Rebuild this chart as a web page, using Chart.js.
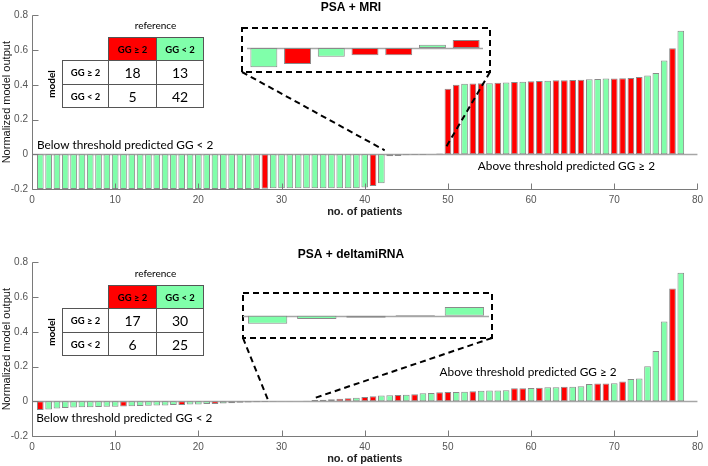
<!DOCTYPE html>
<html>
<head>
<meta charset="utf-8">
<script src="https://cdn.jsdelivr.net/npm/chart.js@4.4.1/dist/chart.umd.min.js"></script>
<style>
  html, body { margin: 0; padding: 0; background: #fff; width: 708px; height: 466px; overflow: hidden; }
  .painel { position: absolute; left: 0; width: 708px; height: 233px; }
  .zoom { position: absolute; }
  .tab { position: absolute; left: 62px; font-family: Lato, 'Open Sans', sans-serif; color: #000; }
  .tab table { border-collapse: collapse; table-layout: fixed; width: 141px; }
  .tab td { border: 1.5px solid #555; padding: 0; text-align: center; vertical-align: middle; }
  .tab td.vazio { border: none; }
  .tab td.hr { background: #ff0000; font-weight: bold; font-size: 9.5px; }
  .tab td.hg { background: #80ffaa; font-weight: bold; font-size: 9.5px; }
  .tab td.rl { font-weight: bold; font-size: 9.5px; }
  .tab td.n { font-size: 14px; }
  .tab .ref { position: absolute; left: 46px; width: 95px; top: -19px; height: 14px; line-height: 14px; text-align: center; font-size: 10px; }
  .tab .mdl { position: absolute; left: -31px; top: 40px; width: 40px; height: 14px; line-height: 14px; text-align: center; font-size: 10px; font-weight: bold; transform: rotate(-90deg); }
</style>
</head>
<body>
<div class="painel" style="top:0"><canvas id="graficoMRI"></canvas></div>
<div class="painel" style="top:247px"><canvas id="graficoMiRNA"></canvas></div>
<div class="zoom" style="left:247px;top:30px;width:236px;height:40px"><canvas id="zoomMRI"></canvas></div>
<div class="zoom" style="left:243px;top:295px;width:246px;height:41px"><canvas id="zoomMiRNA"></canvas></div>
<div class="tab" id="tabMRI" style="top:37px"></div>
<div class="tab" id="tabMiRNA" style="top:285px"></div>

<script>
// Dados
const pacientes = [
  1, 2, 3, 4, 5, 6, 7, 8, 9, 10, 11, 12, 13, 14, 15, 16, 17, 18, 19, 20,
  21, 22, 23, 24, 25, 26, 27, 28, 29, 30, 31, 32, 33, 34, 35, 36, 37, 38, 39, 40,
  41, 42, 43, 44, 45, 46, 47, 48, 49, 50, 51, 52, 53, 54, 55, 56, 57, 58, 59, 60,
  61, 62, 63, 64, 65, 66, 67, 68, 69, 70, 71, 72, 73, 74, 75, 76, 77, 78
];
const ticksX = [0, 10, 20, 30, 40, 50, 60, 70, 80];
const ticksY = [-0.2, 0, 0.2, 0.4, 0.6, 0.8];
const classes = ['GG ≥ 2', 'GG < 2'];

// PSA + MRI
const saidaMRI = [
  -0.2, -0.2, -0.2, -0.2, -0.2, -0.2, -0.2, -0.2, -0.2, -0.2,
  -0.2, -0.2, -0.2, -0.2, -0.2, -0.2, -0.2, -0.2, -0.2, -0.2,
  -0.2, -0.2, -0.2, -0.2, -0.2, -0.2, -0.2, -0.198, -0.196, -0.196,
  -0.196, -0.196, -0.196, -0.196, -0.196, -0.196, -0.196, -0.195, -0.195, -0.192,
  -0.182, -0.167, -0.012, -0.010, -0.0055, -0.0045, -0.0045, 0.002, 0.005, 0.378,
  0.400, 0.406, 0.408, 0.409, 0.409, 0.412, 0.414, 0.416, 0.418, 0.420,
  0.422, 0.424, 0.426, 0.427, 0.428, 0.430, 0.432, 0.434, 0.436, 0.437,
  0.438, 0.439, 0.445, 0.454, 0.468, 0.540, 0.611, 0.712
];
// 1 = referencia GG >= 2 (vermelho), 0 = GG < 2 (verde)
const refMRI = [
  0, 0, 0, 0, 0, 0, 0, 0, 0, 0,
  0, 0, 0, 0, 0, 0, 0, 0, 0, 0,
  0, 0, 0, 0, 0, 0, 0, 1, 0, 0,
  0, 0, 0, 0, 0, 0, 0, 0, 0, 0,
  1, 0, 0, 1, 0, 1, 1, 0, 1, 1,
  1, 0, 1, 1, 0, 1, 0, 1, 0, 1,
  1, 0, 1, 1, 1, 1, 0, 0, 0, 1,
  1, 1, 1, 0, 0, 0, 1, 0
];
const tabelaMRI = [[18, 13], [5, 42]];
const faixaZoomMRI = [43, 49];

// PSA + deltamiRNA
const saidaMiRNA = [
  -0.050, -0.048, -0.041, -0.038, -0.036, -0.035, -0.034, -0.033, -0.032, -0.031,
  -0.030, -0.028, -0.027, -0.026, -0.025, -0.024, -0.022, -0.021, -0.019, -0.018,
  -0.016, -0.015, -0.013, -0.011, -0.009, -0.007, -0.006, -0.004, -0.003, -0.0012,
  -0.0008, 0.0003, 0.0033, 0.007, 0.009, 0.011, 0.015, 0.018, 0.020, 0.025,
  0.029, 0.033, 0.035, 0.036, 0.037, 0.041, 0.046, 0.047, 0.052, 0.054,
  0.054, 0.055, 0.058, 0.060, 0.062, 0.062, 0.064, 0.075, 0.075, 0.077,
  0.078, 0.081, 0.081, 0.084, 0.084, 0.086, 0.099, 0.103, 0.103, 0.104,
  0.114, 0.128, 0.131, 0.202, 0.289, 0.460, 0.649, 0.740
];
const refMiRNA = [
  1, 0, 0, 0, 0, 0, 0, 0, 0, 0,
  1, 0, 0, 0, 0, 0, 0, 1, 0, 0,
  0, 1, 0, 1, 1, 0, 0, 0, 0, 0,
  0, 0, 0, 0, 0, 0, 1, 1, 0, 1,
  1, 0, 0, 1, 0, 1, 0, 0, 1, 1,
  0, 0, 1, 0, 0, 0, 0, 1, 1, 0,
  1, 0, 0, 1, 0, 0, 0, 1, 1, 0,
  1, 0, 0, 0, 0, 0, 1, 0
];
const tabelaMiRNA = [[17, 30], [6, 25]];
const faixaZoomMiRNA = [29, 33];

const VERMELHO = '#ff0000';
const VERDE = '#80ffaa';
const BORDA = '#8a8a8a';
const cor = r => r ? VERMELHO : VERDE;

Chart.defaults.font.family = "'Liberation Sans', Arial, sans-serif";
Chart.defaults.animation = false;

// linha de base em y = 0
const linhaBase = {
  id: 'linhaBase',
  beforeDatasetsDraw(chart) {
    const { ctx, chartArea: a, scales: { y } } = chart;
    const py = Math.round(y.getPixelForValue(0)) + 0.5;
    ctx.save();
    ctx.strokeStyle = '#a6a6a6';
    ctx.lineWidth = 1.5;
    ctx.beginPath();
    ctx.moveTo(a.left, py);
    ctx.lineTo(a.right, py);
    ctx.stroke();
    ctx.restore();
  }
};

// eixos estilo matlab (ticks para dentro), textos e caixa do zoom
const eixosMatlab = {
  id: 'eixosMatlab',
  afterDatasetsDraw(chart, args, opts) {
    const { ctx, chartArea: a, scales: { x, y } } = chart;
    ctx.save();
    ctx.strokeStyle = '#7a7a7a';
    ctx.lineWidth = 1;
    ctx.beginPath();
    const L = Math.round(a.left) + 0.5, B = Math.round(a.bottom) + 0.5;
    ctx.moveTo(L, a.top);
    ctx.lineTo(L, B);
    ctx.lineTo(a.right, B);
    x.ticks.forEach(t => {
      const px = Math.round(x.getPixelForValue(t.value)) + 0.5;
      ctx.moveTo(px, B); ctx.lineTo(px, B - 6);
    });
    y.ticks.forEach(t => {
      const py = Math.round(y.getPixelForValue(t.value)) + 0.5;
      ctx.moveTo(L, py); ctx.lineTo(L + 6, py);
    });
    ctx.stroke();

    // textos
    ctx.fillStyle = '#000';
    ctx.font = "11.8px Lato, 'Open Sans', sans-serif";
    ctx.textBaseline = 'middle';
    ctx.textAlign = 'left';
    (opts.textos || []).forEach(t => {
      ctx.fillText(t.texto, x.getPixelForValue(t.x), y.getPixelForValue(t.y));
    });

    // caixa tracejada do zoom
    const c = opts.caixa;
    if (c) {
      ctx.strokeStyle = '#000';
      ctx.lineWidth = 2;
      ctx.setLineDash([6, 4]);
      ctx.beginPath();
      ctx.rect(c.x0, c.y0, c.x1 - c.x0, c.y1 - c.y0);
      ctx.moveTo(c.x0, c.y1);
      ctx.lineTo(x.getPixelForValue(c.alvos[0][0]), y.getPixelForValue(c.alvos[0][1]));
      ctx.moveTo(c.x1, c.y1);
      ctx.lineTo(x.getPixelForValue(c.alvos[1][0]), y.getPixelForValue(c.alvos[1][1]));
      ctx.stroke();
    }
    ctx.restore();
  }
};

function graficoPrincipal(id, titulo, valores, refs, textos, caixa) {
  new Chart(document.getElementById(id), {
    type: 'bar',
    data: {
      datasets: [{
        data: valores.map((v, i) => ({ x: pacientes[i], y: v })),
        backgroundColor: refs.map(cor),
        borderColor: BORDA,
        borderWidth: 1,
        borderSkipped: false,
        barPercentage: 0.8,
        categoryPercentage: 1
      }]
    },
    options: {
      responsive: true,
      maintainAspectRatio: false,
      layout: { padding: { left: 0, right: 6, top: 0, bottom: 0 } },
      plugins: {
        legend: { display: false },
        tooltip: { enabled: false },
        title: {
          display: true, text: titulo, color: '#000',
          font: { size: 12, weight: 'bold' }, padding: { top: 0, bottom: 1 }
        },
        eixosMatlab: { textos, caixa }
      },
      scales: {
        x: {
          type: 'linear', min: 0, max: 80, offset: false,
          afterBuildTicks: s => { s.ticks = ticksX.map(v => ({ value: v })); },
          afterFit: s => { s.height = 44; },
          grid: { display: false, drawTicks: false, offset: false },
          border: { display: false },
          ticks: { color: '#555', font: { size: 10 }, padding: 5, maxRotation: 0, callback: v => String(v) },
          title: {
            display: true, text: 'no. of patients', color: '#222',
            font: { size: 11, weight: 'bold' }, padding: { top: 0, bottom: 14 }
          }
        },
        y: {
          min: -0.2, max: 0.8,
          afterBuildTicks: s => { s.ticks = ticksY.map(v => ({ value: v })); },
          afterFit: s => { s.width = 32; },
          grid: { display: false, drawTicks: false },
          border: { display: false },
          ticks: { color: '#555', font: { size: 10 }, padding: 4, callback: v => String(v) },
          title: {
            display: true, text: 'Normalized model output', color: '#111',
            font: { size: 11 }, padding: { top: 0, bottom: 0 }
          }
        }
      }
    },
    plugins: [linhaBase, eixosMatlab]
  });
}

function graficoZoom(id, faixa, valores, refs, yMin, yMax) {
  const ini = faixa[0] - 1, fim = faixa[1];
  new Chart(document.getElementById(id), {
    type: 'bar',
    data: {
      labels: pacientes.slice(ini, fim),
      datasets: [{
        data: valores.slice(ini, fim),
        backgroundColor: refs.slice(ini, fim).map(cor),
        borderColor: BORDA,
        borderWidth: 1,
        borderSkipped: false,
        barPercentage: 0.8,
        categoryPercentage: 1
      }]
    },
    options: {
      responsive: true,
      maintainAspectRatio: false,
      layout: { padding: 0 },
      plugins: { legend: { display: false }, tooltip: { enabled: false } },
      scales: {
        x: { display: false },
        y: { display: false, min: yMin, max: yMax }
      }
    },
    plugins: [linhaBase]
  });
}

function montaTabela(id, contagens) {
  document.getElementById(id).innerHTML =
    '<div class="ref">reference</div><div class="mdl">model</div>' +
    '<table><colgroup><col style="width:46px"><col style="width:48px"><col style="width:47px"></colgroup>' +
    '<tr style="height:23px"><td class="vazio"></td><td class="hr">' + classes[0] + '</td><td class="hg">' + classes[1] + '</td></tr>' +
    '<tr style="height:24px"><td class="rl">' + classes[0] + '</td><td class="n">' + contagens[0][0] + '</td><td class="n">' + contagens[0][1] + '</td></tr>' +
    '<tr style="height:23px"><td class="rl">' + classes[1] + '</td><td class="n">' + contagens[1][0] + '</td><td class="n">' + contagens[1][1] + '</td></tr>' +
    '</table>';
}

graficoPrincipal('graficoMRI', 'PSA + MRI', saidaMRI, refMRI,
  [
    { texto: 'Below threshold predicted GG < 2', x: 0.6, y: 0.052 },
    { texto: 'Above threshold predicted GG ≥ 2', x: 53.6, y: -0.069 }
  ],
  { x0: 242, y0: 28, x1: 490, y1: 72, alvos: [[42.4, 0.023], [49.7, 0.035]] });

graficoPrincipal('graficoMiRNA', 'PSA + deltamiRNA', saidaMiRNA, refMiRNA,
  [
    { texto: 'Below threshold predicted GG < 2', x: 0.5, y: -0.1 },
    { texto: 'Above threshold predicted GG ≥ 2', x: 49.0, y: 0.165 }
  ],
  { x0: 243, y0: 46, x1: 492, y1: 91, alvos: [[28.4, 0.004], [33.8, 0.016]] });

graficoZoom('zoomMRI', faixaZoomMRI, saidaMRI, refMRI, -0.01375, 0.01125);
graficoZoom('zoomMiRNA', faixaZoomMiRNA, saidaMiRNA, refMiRNA, -0.0076, 0.00776);

montaTabela('tabMRI', tabelaMRI);
montaTabela('tabMiRNA', tabelaMiRNA);
</script>
</body>
</html>
